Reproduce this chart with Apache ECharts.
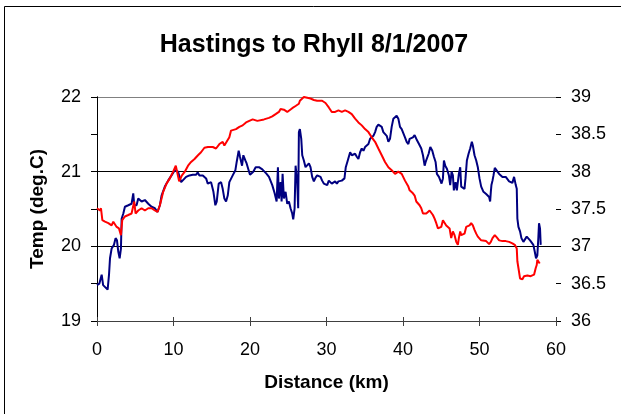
<!DOCTYPE html>
<html>
<head>
<meta charset="utf-8">
<script src="https://cdn.jsdelivr.net/npm/echarts@6/dist/echarts.min.js"></script>
<style>
  html, body { margin: 0; padding: 0; background: #fff; }
  #chart { width: 621px; height: 414px; }
</style>
</head>
<body>
<div id="chart"></div>
<script>
const FONT = '"Liberation Sans", Arial, sans-serif';

// blue trace, left axis (deg C)
const blueKm = [0, 0.3, 0.61, 0.8, 1.04, 1.39, 1.57, 1.7, 1.91, 2.22, 2.43, 2.61, 2.78, 2.96, 3.13, 3.22, 3.44, 3.65, 4.09, 4.52,
  4.74, 4.87, 5.17, 5.39, 5.83, 6.26, 6.7, 7.13, 7.57, 7.91, 8.22, 8.44, 8.87, 9.3, 9.74, 10.17, 10.6, 11.0, 11.22, 11.65,
  12.09, 12.52, 12.96, 13.17, 13.39, 13.83, 14.26, 14.48, 14.7, 14.91, 15.04, 15.22, 15.47, 15.65, 15.91, 16.22, 16.43, 16.65, 16.87, 17.09,
  17.3, 17.74, 18.09, 18.26, 18.52, 18.69, 18.96, 19.13, 19.39, 19.56, 19.82, 20.0, 20.2, 20.43, 20.74, 20.96, 21.17, 21.39, 21.61, 21.83,
  22.17, 22.48, 22.7, 22.91, 23.22, 23.48, 23.65, 23.78, 24.0, 24.13, 24.26, 24.43, 24.65, 24.87, 25.09, 25.3, 25.52, 25.65, 25.83, 25.96,
  26.17, 26.3, 26.39, 26.52, 26.7, 26.83, 27.04, 27.26, 27.48, 27.7, 27.91, 28.13, 28.35, 28.57, 28.78, 29.0, 29.22, 29.43, 29.65, 29.87,
  30.09, 30.3, 30.52, 30.69, 30.91, 31.13, 31.35, 31.56, 31.78, 32.0, 32.22, 32.35, 32.52, 32.78, 33.09, 33.3, 33.52, 33.74, 33.96, 34.17,
  34.39, 34.61, 34.83, 35.04, 35.26, 35.48, 35.7, 35.91, 36.13, 36.35, 36.56, 36.78, 37.0, 37.22, 37.43, 37.65, 37.87, 38.09, 38.3, 38.52,
  38.74, 38.96, 39.17, 39.39, 39.61, 39.83, 40.04, 40.26, 40.48, 40.7, 40.87, 41.09, 41.3, 41.52, 41.65, 41.83, 42.09, 42.39, 42.61, 42.83,
  42.96, 43.13, 43.35, 43.57, 43.83, 44.04, 44.26, 44.43, 44.7, 44.87, 45.04, 45.22, 45.35, 45.52, 45.74, 46.0, 46.17, 46.35, 46.52, 46.65,
  46.87, 47.04, 47.3, 47.48, 47.61, 47.83, 48.04, 48.17, 48.35, 48.57, 48.78, 49.0, 49.13, 49.35, 49.57, 49.78, 50.0, 50.22, 50.52, 50.87,
  51.04, 51.26, 51.39, 51.48, 51.56, 51.7, 51.83, 52.0, 52.17, 52.35, 52.57, 52.78, 53.0, 53.22, 53.43, 53.65, 53.87, 54.08, 54.3, 54.52,
  54.74, 54.87, 54.95, 55.09, 55.3, 55.48, 55.74, 55.91, 56.17, 56.35, 56.61, 56.78, 57.04, 57.22, 57.39, 57.56, 57.69, 57.78, 57.91, 58.0];
const blueTemp = [19.48, 19.5, 19.62, 19.48, 19.46, 19.42, 19.62, 19.84, 19.97, 20.02, 20.11, 20.08, 19.93, 19.84, 19.97, 20.37, 20.44, 20.53, 20.55, 20.57,
  20.71, 20.55, 20.55, 20.64, 20.6, 20.62, 20.57, 20.53, 20.51, 20.46, 20.55, 20.68, 20.8, 20.88, 20.95, 21.02, 21.0, 20.86, 20.88, 20.93,
  20.95, 20.96, 20.96, 20.99, 20.95, 20.95, 20.91, 20.84, 20.82, 20.86, 20.88, 20.73, 20.55, 20.6, 20.84, 20.86, 20.77, 20.64, 20.6, 20.68,
  20.86, 20.95, 21.02, 21.13, 21.28, 21.2, 21.08, 21.22, 21.15, 21.11, 21.02, 20.96, 20.98, 21.0, 21.06, 21.08, 21.06, 21.08, 21.03, 21.02,
  20.97, 20.93, 20.91, 20.82, 20.71, 20.6, 21.06, 20.64, 20.86, 20.6, 20.97, 20.64, 20.73, 20.57, 20.6, 20.51, 20.44, 20.36, 20.51, 21.08,
  20.86, 20.51, 21.53, 21.57, 21.44, 21.22, 21.15, 21.06, 21.08, 21.11, 21.06, 20.93, 20.87, 20.92, 20.95, 20.97, 20.93, 20.88, 20.84, 20.86,
  20.82, 20.88, 20.86, 20.84, 20.86, 20.87, 20.84, 20.87, 20.85, 20.88, 20.86, 20.91, 21.06, 21.15, 21.26, 21.22, 21.2, 21.24, 21.2, 21.17,
  21.26, 21.31, 21.28, 21.33, 21.31, 21.37, 21.44, 21.46, 21.48, 21.53, 21.6, 21.63, 21.62, 21.6, 21.53, 21.55, 21.48, 21.4, 21.44, 21.6,
  21.71, 21.73, 21.75, 21.71, 21.6, 21.57, 21.55, 21.46, 21.4, 21.37, 21.44, 21.46, 21.46, 21.49, 21.51, 21.42, 21.37, 21.31, 21.22, 21.08,
  21.13, 21.11, 21.24, 21.33, 21.28, 21.2, 21.13, 20.97, 20.93, 20.93, 20.84, 20.91, 21.15, 21.08, 21.04, 20.95, 20.82, 21.0, 20.95, 20.75,
  20.86, 20.75, 20.97, 21.06, 20.8, 20.82, 20.77, 20.91, 21.15, 21.24, 21.31, 21.4, 21.35, 21.22, 21.15, 21.06, 20.91, 20.8, 20.73, 20.7,
  20.68, 20.66, 20.6, 20.73, 20.82, 20.88, 20.95, 21.05, 21.03, 21.0, 20.97, 20.95, 20.93, 20.95, 20.93, 20.91, 20.87, 20.85, 20.85, 20.93,
  20.82, 20.77, 20.37, 20.26, 20.2, 20.11, 20.06, 20.08, 20.13, 20.11, 20.08, 20.06, 20.02, 19.93, 19.84, 19.88, 20.11, 20.31, 20.24, 20.02];

// red trace, right axis
const redKm = [0, 0.39, 0.52, 0.7, 1.04, 1.48, 1.91, 2.13, 2.57, 2.87, 3.13, 3.3, 3.65, 4.09, 4.52, 4.87, 5.04, 5.39, 5.83, 6.26,
  6.7, 7.13, 7.57, 7.91, 8.22, 8.44, 8.65, 9.09, 9.52, 9.96, 10.3, 10.74, 11.1, 11.48, 11.9, 12.3, 12.75, 13.2, 13.6, 14.04,
  14.5, 15.13, 15.56, 16.0, 16.43, 16.65, 16.87, 17.3, 17.52, 17.74, 18.17, 18.61, 19.04, 19.48, 19.91, 20.35, 20.96, 21.83, 22.48, 22.91,
  23.35, 23.78, 24.0, 24.43, 24.87, 25.09, 25.52, 25.96, 26.39, 26.52, 26.7, 27.04, 27.48, 27.91, 28.35, 28.78, 29.43, 29.87, 30.3, 30.69,
  31.13, 31.56, 32.0, 32.43, 32.87, 33.3, 33.74, 34.17, 34.61, 35.04, 35.48, 35.91, 36.35, 36.78, 37.22, 37.65, 38.09, 38.52, 38.96, 39.39,
  39.83, 40.26, 40.7, 40.87, 41.3, 41.52, 41.74, 42.17, 42.39, 42.61, 42.83, 43.04, 43.26, 43.48, 43.7, 43.91, 44.13, 44.35, 44.57, 44.78,
  45.0, 45.22, 45.43, 45.65, 45.87, 46.09, 46.3, 46.52, 46.74, 46.96, 47.17, 47.3, 47.48, 47.61, 47.83, 48.04, 48.26, 48.48, 48.7, 48.91,
  49.13, 49.35, 49.57, 49.78, 50.0, 50.22, 50.44, 50.87, 51.04, 51.26, 51.48, 51.7, 52.0, 52.26, 52.57, 53.0, 53.43, 53.87, 54.3, 54.61,
  54.87, 54.95, 55.09, 55.3, 55.61, 55.82, 56.26, 56.69, 56.91, 57.13, 57.35, 57.48, 57.56, 57.69, 57.87];
const redVal = [37.51, 37.48, 37.51, 37.35, 37.33, 37.31, 37.28, 37.33, 37.26, 37.24, 37.15, 37.35, 37.4, 37.42, 37.44, 37.6, 37.44, 37.48, 37.51, 37.48,
  37.51, 37.51, 37.48, 37.46, 37.55, 37.64, 37.73, 37.84, 37.91, 38.0, 38.08, 37.87, 37.95, 38.0, 38.08, 38.13, 38.17, 38.22, 38.26, 38.32,
  38.33, 38.33, 38.31, 38.37, 38.4, 38.35, 38.36, 38.46, 38.55, 38.57, 38.57, 38.6, 38.62, 38.66, 38.68, 38.7, 38.68, 38.7, 38.72, 38.74,
  38.77, 38.8, 38.84, 38.83, 38.8, 38.82, 38.85, 38.88, 38.91, 38.95, 38.97, 39.0, 38.99, 38.98, 38.96, 38.95, 38.95, 38.92, 38.86, 38.8,
  38.8, 38.82, 38.8, 38.82, 38.8, 38.77, 38.71, 38.66, 38.62, 38.57, 38.53, 38.46, 38.4, 38.31, 38.22, 38.13, 38.06, 38.02, 37.97, 38.0,
  37.97, 37.88, 37.8, 37.75, 37.71, 37.68, 37.6, 37.55, 37.51, 37.44, 37.42, 37.44, 37.46, 37.48, 37.46, 37.42, 37.37, 37.31, 37.24, 37.24,
  37.26, 37.35, 37.33, 37.28, 37.26, 37.24, 37.11, 37.2, 37.15, 37.06, 37.02, 37.11, 37.2, 37.15, 37.13, 37.17, 37.26, 37.26, 37.28, 37.31,
  37.28, 37.22, 37.17, 37.13, 37.11, 37.08, 37.07, 37.07, 37.06, 37.03, 37.06, 37.11, 37.15, 37.12, 37.08, 37.07, 37.07, 37.06, 37.04, 37.02,
  36.97, 36.8, 36.71, 36.57, 36.56, 36.6, 36.61, 36.6, 36.6, 36.62, 36.71, 36.75, 36.82, 36.84, 36.77];

const xTicks = { min: 0, max: 60, step: 10 };
const leftTicks = { min: 19, max: 22, step: 1 };
const rightTicks = { min: 36, max: 39, step: 0.5 };

const zip = (xs, ys) => xs.map((x, i) => [x, ys[i]]);

const chart = echarts.init(document.getElementById('chart'));

const labelStyle = { color: '#000', fontSize: 18, fontFamily: FONT };

chart.setOption({
  animation: false,
  backgroundColor: '#fff',
  grid: { left: 97, right: 65, top: 97, bottom: 93 },
  graphic: [
    {
      type: 'rect',
      shape: { x: 4.5, y: 6.5, width: 700, height: 500 },
      style: { fill: 'none', stroke: '#000', lineWidth: 1 }
    },
    {
      type: 'text',
      x: 314,
      y: 45,
      style: {
        text: 'Hastings to Rhyll 8/1/2007',
        font: 'bold 25px ' + FONT,
        fill: '#000',
        textAlign: 'center',
        textVerticalAlign: 'middle'
      }
    }
  ],
  xAxis: [
    {
      type: 'value',
      position: 'bottom',
      min: xTicks.min, max: xTicks.max, interval: xTicks.step,
      name: 'Distance (km)',
      nameLocation: 'middle',
      nameGap: 52,
      nameTextStyle: { color: '#000', fontSize: 19, fontWeight: 'bold', fontFamily: FONT },
      axisLine: { lineStyle: { color: '#404040', width: 1 } },
      axisTick: { length: 5, lineStyle: { color: '#404040' } },
      axisLabel: Object.assign({ margin: 20 }, labelStyle),
      splitLine: { show: false }
    },
    {
      type: 'value',
      position: 'bottom',
      min: xTicks.min, max: xTicks.max, interval: xTicks.step,
      axisLine: { show: false },
      axisTick: { inside: true, length: 4, lineStyle: { color: '#404040' } },
      axisLabel: { show: false },
      splitLine: { show: false }
    }
  ],
  yAxis: [
    {
      type: 'value',
      position: 'left',
      min: leftTicks.min, max: leftTicks.max, interval: leftTicks.step,
      name: 'Temp (deg.C)',
      nameLocation: 'middle',
      nameGap: 50,
      nameRotate: 90,
      nameTextStyle: { color: '#000', fontSize: 19, fontWeight: 'bold', fontFamily: FONT },
      axisLine: { lineStyle: { color: '#000', width: 1 } },
      axisTick: { length: 6, lineStyle: { color: '#000' } },
      axisLabel: Object.assign({ margin: 16 }, labelStyle),
      splitLine: { show: true, lineStyle: { color: ['#404040', '#000', '#000', '#808080'], width: 1 } }
    },
    {
      type: 'value',
      position: 'right',
      min: rightTicks.min, max: rightTicks.max, interval: rightTicks.step,
      axisLine: { show: true, lineStyle: { color: '#000', width: 1 } },
      axisTick: { inside: true, length: 6, lineStyle: { color: '#000' } },
      axisLabel: Object.assign({ margin: 15 }, labelStyle),
      splitLine: { show: false }
    },
    {
      type: 'value',
      position: 'right',
      min: rightTicks.min, max: rightTicks.max, interval: rightTicks.step,
      axisLine: { show: false },
      axisTick: { length: 5, lineStyle: { color: '#000' } },
      axisLabel: { show: false },
      splitLine: { show: false }
    }
  ],
  series: [
    {
      name: 'Temp',
      type: 'line',
      xAxisIndex: 0,
      yAxisIndex: 0,
      data: zip(blueKm, blueTemp),
      showSymbol: false,
      lineStyle: { color: '#000080', width: 2 }
    },
    {
      name: 'Right',
      type: 'line',
      xAxisIndex: 0,
      yAxisIndex: 1,
      data: zip(redKm, redVal),
      showSymbol: false,
      lineStyle: { color: '#ff0000', width: 2 }
    }
  ]
});
</script>
</body>
</html>
